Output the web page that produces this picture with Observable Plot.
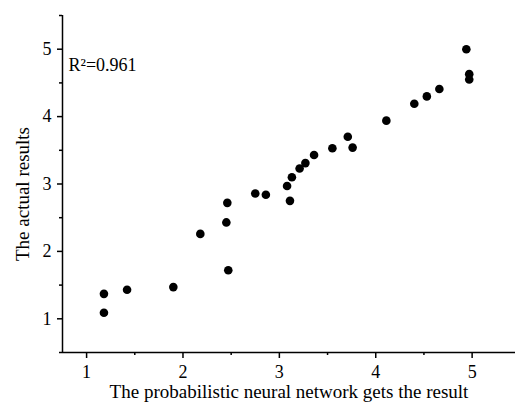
<!DOCTYPE html>
<html>
<head>
<meta charset="utf-8">
<script src="https://cdn.jsdelivr.net/npm/d3@7"></script>
<script src="https://cdn.jsdelivr.net/npm/@observablehq/plot@0.6"></script>
<style>
  html, body { margin: 0; padding: 0; background: #fff; }
  svg { display: block; }
</style>
</head>
<body>
<div id="chart"></div>
<script>
const predicted = [1.18, 1.18, 1.42, 1.90, 2.18, 2.45, 2.46, 2.47, 2.75, 2.86, 3.08, 3.11, 3.13, 3.21, 3.27, 3.36, 3.55, 3.71, 3.76, 4.11, 4.40, 4.53, 4.66, 4.94, 4.97, 4.97];
const actual    = [1.09, 1.37, 1.43, 1.47, 2.26, 2.43, 2.72, 1.72, 2.86, 2.84, 2.97, 2.75, 3.10, 3.23, 3.31, 3.43, 3.53, 3.70, 3.54, 3.94, 4.19, 4.30, 4.41, 5.00, 4.63, 4.55];
const xMajor = [1, 2, 3, 4, 5];
const xMinor = [1.5, 2.5, 3.5, 4.5];
const yMajor = [1, 2, 3, 4, 5];
const yMinor = [0.5, 1.5, 2.5, 3.5, 4.5, 5.5];
const xDomain = [0.75, 5.45];
const yDomain = [0.5, 5.5];
const xTitle = "The probabilistic neural network gets the result";
const yTitle = "The actual results";
const annotation = "R²=0.961";

const points = predicted.map((x, i) => ({x, y: actual[i]}));

const chart = Plot.plot({
  width: 515,
  height: 409,
  marginLeft: 62,
  marginRight: 0,
  marginTop: 15,
  marginBottom: 57,
  style: {fontFamily: "'Liberation Serif', 'Times New Roman', serif", fontSize: "18px", color: "#000", background: "#fff"},
  x: {domain: xDomain},
  y: {domain: yDomain},
  marks: [
    Plot.axisX({ticks: xMajor, tickSize: 6, tickPadding: 7, tickFormat: d => String(d), label: null, fontSize: 18, stroke: "#000", fill: "#000", strokeWidth: 1.5}),
    Plot.axisX({ticks: xMinor, tickSize: 3, text: null, label: null, stroke: "#000", strokeWidth: 1.5}),
    Plot.axisY({ticks: yMajor, tickSize: 5, tickPadding: 6, tickFormat: d => String(d), label: null, fontSize: 18, stroke: "#000", fill: "#000", strokeWidth: 1.5}),
    Plot.axisY({ticks: yMinor, tickSize: 3, text: null, label: null, stroke: "#000", strokeWidth: 1.5}),
    Plot.ruleX([xDomain[0]], {stroke: "#000", strokeWidth: 1.5}),
    Plot.ruleY([yDomain[0]], {stroke: "#000", strokeWidth: 1.5}),
    Plot.dot(points, {x: "x", y: "y", r: 4.3, fill: "#000", stroke: "none"}),
    Plot.text([annotation], {frameAnchor: "top-left", dx: 6, dy: 43, textAnchor: "start", fontSize: 18, fill: "#000"}),
    Plot.text([xTitle], {frameAnchor: "bottom", dy: 45.5, textAnchor: "middle", fontSize: 19, fill: "#000"}),
    Plot.text([yTitle], {frameAnchor: "left", dx: -40, dy: 10, rotate: -90, textAnchor: "middle", fontSize: 19, fill: "#000"})
  ]
});
document.getElementById("chart").appendChild(chart);
</script>
</body>
</html>
